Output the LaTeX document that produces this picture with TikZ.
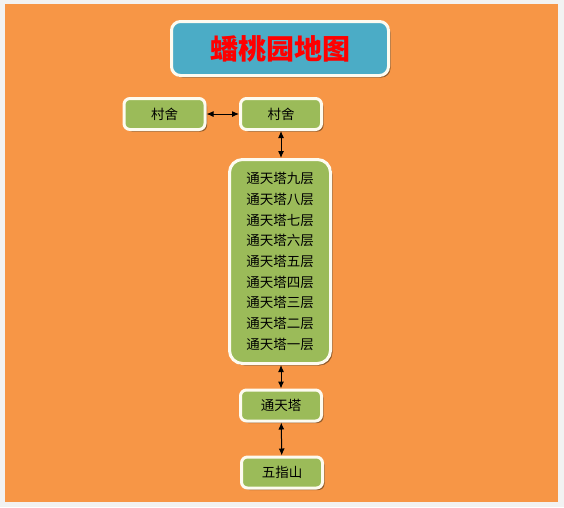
\documentclass[tikz,border=0pt]{standalone}
\usepackage{fontspec}
\newfontfamily\cjk{Noto Sans CJK SC}
\usetikzlibrary{shadows,arrows.meta}
\definecolor{bgorange}{HTML}{F79646}
\definecolor{boxgreen}{HTML}{9BBB59}
\definecolor{boxblue}{HTML}{4BACC6}
\definecolor{frame}{HTML}{F2F2F2}
\definecolor{rim}{HTML}{FDFBF0}
\tikzset{
  place/.style={draw=rim, line width=3pt, fill=boxgreen, rounded corners=6pt,
    inner sep=0pt, minimum width=81pt, minimum height=31pt,
    font=\cjk\fontsize{13.5}{16}\selectfont,
    drop shadow={shadow xshift=2pt, shadow yshift=-2pt, fill=black!60!brown, opacity=.6}},
  link/.style={{Latex[length=7pt,width=6pt]}-{Latex[length=7pt,width=6pt]}, line width=1pt}
}
\begin{document}
\begin{tikzpicture}[x=1pt,y=-1pt]
\useasboundingbox (0,0) rectangle (564,507);
\fill[frame] (0,0) rectangle (564,507);
\fill[bgorange] (5,4) rectangle (558,502);

% title
\node[place, fill=boxblue, rounded corners=9pt, minimum width=217pt, minimum height=54pt,
  text=red, font=\cjk\bfseries\fontsize{28}{30}\selectfont] (title) at (280,48.5) {蟠桃园地图};

% places
\node[place] (cunL) at (164.5,114) {村舍};
\node[place] (cunR) at (281,114) {村舍};
\node[place, rounded corners=13pt, minimum width=101pt, minimum height=204pt,
  align=center, font=\cjk\fontsize{13.5}{20.7}\selectfont] (tower) at (280,261.5)
  {通天塔九层\\通天塔八层\\通天塔七层\\通天塔六层\\通天塔五层\\通天塔四层\\通天塔三层\\通天塔二层\\通天塔一层};
\node[place] (ttt) at (281,405.5) {通天塔};
\node[place] (wzs) at (282,472.5) {五指山};

% links
\draw[link] (cunL) -- (cunR);
\draw[link] (cunR) -- (cunR |- tower.north);
\draw[link] (ttt |- tower.south) -- (ttt);
\draw[link] (ttt) -- (wzs);
\end{tikzpicture}
\end{document}
